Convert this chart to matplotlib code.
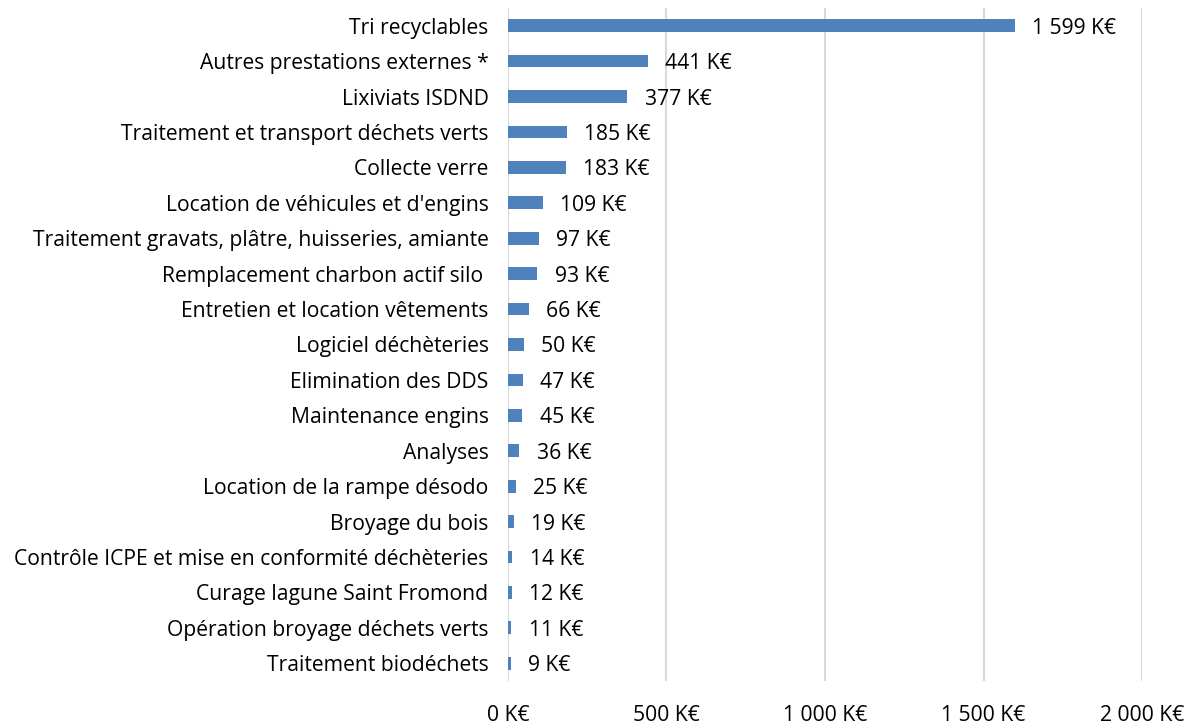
import matplotlib.pyplot as plt
import numpy as np
from matplotlib.ticker import FuncFormatter

categories = ['Tri recyclables', 'Autres prestations externes *', 'Lixiviats ISDND',
              'Traitement et transport déchets verts', 'Collecte verre',
              "Location de véhicules et d'engins",
              'Traitement gravats, plâtre, huisseries, amiante',
              'Remplacement charbon actif silo ', 'Entretien et location vêtements',
              'Logiciel déchèteries', 'Elimination des DDS', 'Maintenance engins',
              'Analyses', 'Location de la rampe désodo', 'Broyage du bois',
              'Contrôle ICPE et mise en conformité déchèteries',
              'Curage lagune Saint Fromond', 'Opération broyage déchets verts',
              'Traitement biodéchets']
values = [1599, 441, 377, 185, 183, 109, 97, 93, 66, 50, 47, 45, 36, 25, 19, 14, 12, 11, 9]
xticks = [0, 500, 1000, 1500, 2000]

plt.rcParams['font.family'] = ['Open Sans', 'DejaVu Sans']
FS = 15.2


def keur(v):
    return '{:,.0f} K€'.format(v).replace(',', ' ')


fig = plt.figure(figsize=(12, 7.24), dpi=100)
ax = fig.add_axes([0.4233, 0.0594, 0.9517 - 0.4233, 0.989 - 0.0594])

y = np.arange(len(categories))
ax.barh(y, values, height=0.36, color='#4f81bd', left=0, zorder=3)
for i, v in enumerate(values):
    ax.annotate(keur(v), (v, i), xytext=(12.5, 0), textcoords='offset points',
                va='center_baseline', ha='left', fontsize=FS, color='black')

ax.set_yticks(y)
ax.set_yticklabels(categories, fontsize=FS)
ax.set_ylim(len(categories) - 0.5, -0.5)
ax.set_xlim(0, 2000)
ax.set_xticks(xticks)
ax.xaxis.set_major_formatter(FuncFormatter(lambda v, p: keur(v)))
ax.tick_params(axis='x', length=0, pad=17, labelsize=FS)
ax.tick_params(axis='y', length=0, pad=14)
ax.grid(axis='x', color='#d9d9d9', linewidth=1.5, zorder=0)
for s in ax.spines.values():
    s.set_visible(False)

fig.savefig('out.png', dpi=100)
